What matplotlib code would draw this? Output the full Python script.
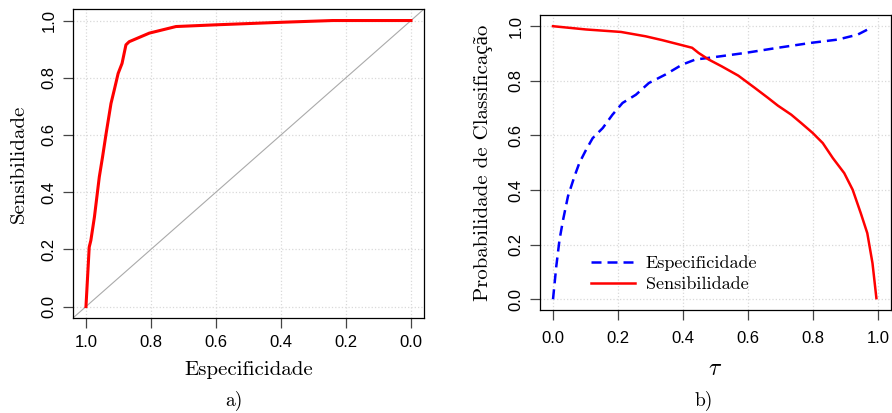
import matplotlib
matplotlib.use('Agg')
import matplotlib.pyplot as plt

plt.rcParams['mathtext.fontset'] = 'cm'

# Curva ROC (painel a)
roc_espec = [1.0, 0.99, 0.985, 0.974, 0.959, 0.949, 0.938, 0.923, 0.913, 0.901,
             0.889, 0.877, 0.867, 0.805, 0.723, 0.6, 0.395, 0.241, 0.0]
roc_sens = [0.0, 0.208, 0.231, 0.313, 0.453, 0.523, 0.605, 0.710, 0.757, 0.815,
            0.850, 0.915, 0.926, 0.956, 0.979, 0.985, 0.994, 1.0, 1.0]

# Especificidade e sensibilidade vs tau (painel b)
tau_esp = [0.0, 0.010, 0.020, 0.031, 0.046, 0.066, 0.081, 0.102, 0.122, 0.153,
           0.183, 0.214, 0.255, 0.295, 0.346, 0.397, 0.438, 0.479, 0.591, 0.692,
           0.794, 0.876, 0.937, 0.978]
esp = [0.0, 0.12, 0.218, 0.291, 0.377, 0.45, 0.499, 0.548, 0.590, 0.627,
       0.676, 0.719, 0.749, 0.792, 0.823, 0.859, 0.878, 0.884, 0.902, 0.921,
       0.939, 0.951, 0.969, 0.994]
tau_sen = [0.0, 0.102, 0.209, 0.285, 0.336, 0.428, 0.448, 0.479, 0.519, 0.570,
           0.621, 0.662, 0.692, 0.733, 0.764, 0.799, 0.830, 0.861, 0.896, 0.922,
           0.947, 0.967, 0.983, 0.995]
sen = [1.0, 0.988, 0.979, 0.963, 0.949, 0.921, 0.902, 0.878, 0.853, 0.819,
       0.774, 0.737, 0.709, 0.676, 0.645, 0.609, 0.572, 0.517, 0.462, 0.401,
       0.315, 0.242, 0.132, 0.004]

ticks = [0.0, 0.2, 0.4, 0.6, 0.8, 1.0]
tick_font = 'Liberation Sans'
serif = ['cmr10', 'Liberation Serif']

fig = plt.figure(figsize=(8.92, 4.13), dpi=100)
ax1 = fig.add_axes([0.0818, 0.230, 0.3935, 0.748])
ax2 = fig.add_axes([0.6054, 0.249, 0.3935, 0.714])


def estilo(ax, xpad=5):
    ax.set_xticks(ticks)
    ax.set_yticks(ticks)
    ax.set_xticklabels(['%.1f' % t for t in ticks], family=tick_font, fontsize=12)
    ax.set_yticklabels(['%.1f' % t for t in ticks], family=tick_font, fontsize=12,
                       rotation=90, va='center')
    ax.tick_params(length=7, width=0.9, color='#444444', pad=5)
    ax.tick_params(axis='x', pad=xpad)
    ax.grid(True, color='#d9d9d9', linestyle=':', linewidth=0.9)
    for s in ax.spines.values():
        s.set_linewidth(0.9)
    ax.set_axisbelow(True)


# a)
ax1.axline((0, 1), (1, 0), color='#aaaaaa', linewidth=0.8)
ax1.plot(roc_espec, roc_sens, color='red', linewidth=2.2)
ax1.set_xlim(1.04, -0.04)
ax1.set_ylim(-0.04, 1.04)
estilo(ax1)
ax1.set_xlabel('Especificidade', family=serif, fontsize=15, labelpad=8)
ax1.set_ylabel('Sensibilidade', family=serif, fontsize=15, labelpad=10)
fig.text(0.262, 0.018, 'a)', family=serif, fontsize=14, ha='center')

# b)
ax2.plot(tau_esp, esp, color='blue', linewidth=1.8, dashes=(4, 2.4),
         label='Especificidade')
ax2.plot(tau_sen, sen, color='red', linewidth=1.8, label='Sensibilidade')
ax2.set_xlim(-0.04, 1.04)
ax2.set_ylim(-0.04, 1.04)
estilo(ax2, xpad=8)
ax2.set_xlabel(r'$\tau$', fontsize=17, labelpad=7)
ax2.set_ylabel('Probabilidade de Classificação', family=serif, fontsize=15,
               labelpad=11)
ax2.legend(loc='lower left', bbox_to_anchor=(0.1, 0.005), frameon=False,
           prop={'family': serif, 'size': 13}, handlelength=2.4,
           handletextpad=0.6, labelspacing=0.3)
fig.text(0.789, 0.018, 'b)', family=serif, fontsize=14, ha='center')

fig.savefig('out.png', dpi=100)
